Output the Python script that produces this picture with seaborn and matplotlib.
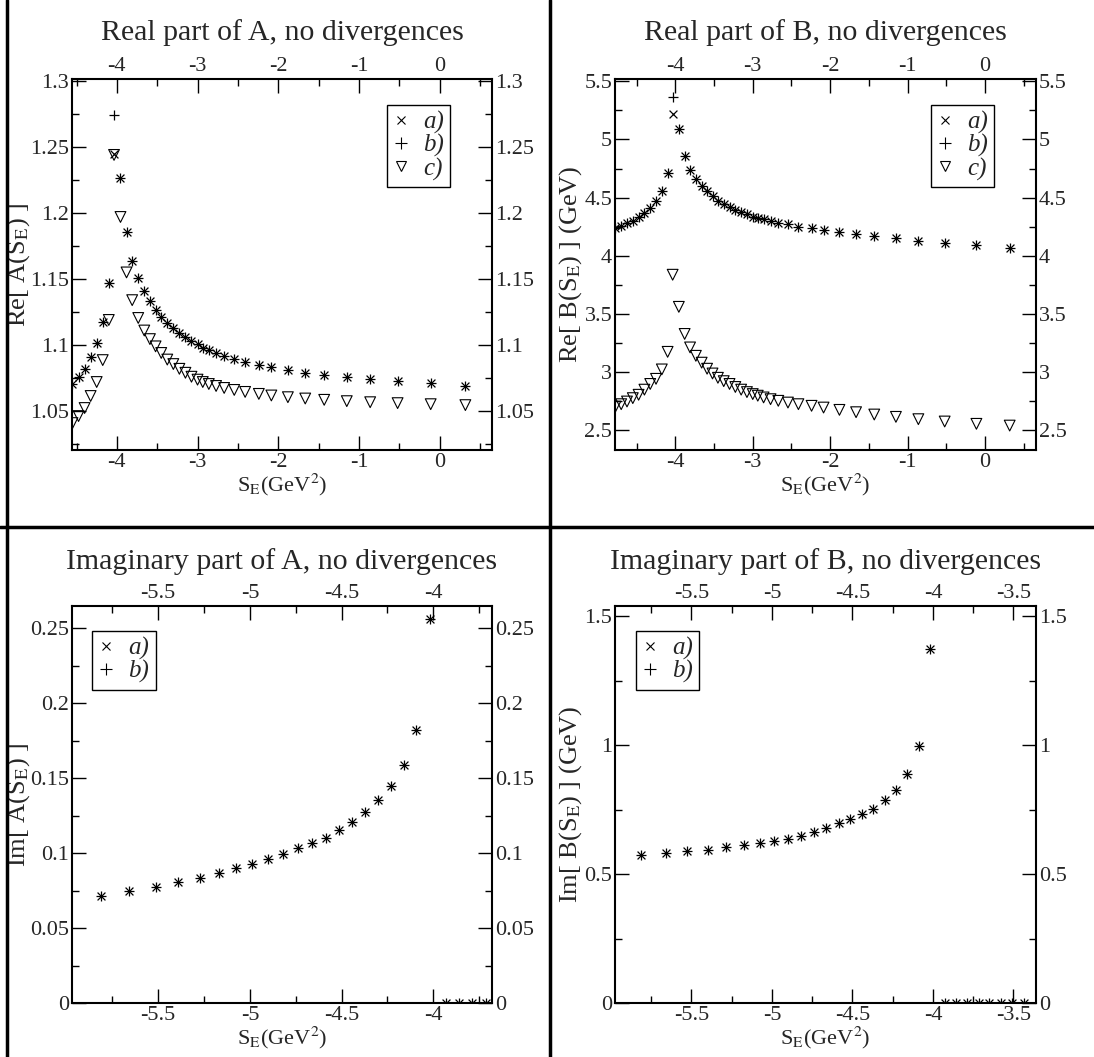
import matplotlib
matplotlib.use('Agg')
import matplotlib.pyplot as plt
from matplotlib.lines import Line2D
from matplotlib.ticker import MultipleLocator
import seaborn as sns

sns.set_theme(style='ticks')
plt.rcParams['font.family'] = ['Liberation Serif', 'DejaVu Serif']
plt.rcParams['mathtext.fontset'] = 'stix'

# ---- Re A ----
rea_x = [-4.55, -4.475, -4.40, -4.325, -4.25, -4.175, -4.10, -4.035,
         -3.955, -3.88, -3.81, -3.735, -3.66, -3.59, -3.52, -3.45, -3.375, -3.30,
         -3.225, -3.15, -3.075, -3.00, -2.935, -2.86, -2.77, -2.67, -2.545, -2.41,
         -2.24, -2.085, -1.88, -1.665, -1.43, -1.15, -0.86, -0.52, -0.11, 0.32]
rea_a = [1.0705, 1.0758, 1.0818, 1.0909, 1.1015, 1.1174, 1.147, 1.245,
         1.2265, 1.1856, 1.164, 1.151, 1.141, 1.133, 1.1265, 1.121, 1.1167, 1.113,
         1.109, 1.106, 1.103, 1.1005, 1.098, 1.096, 1.094, 1.092, 1.0895, 1.087,
         1.085, 1.083, 1.081, 1.079, 1.0775, 1.076, 1.074, 1.0725, 1.071, 1.069]
rea_b = [1.0705, 1.0758, 1.0818, 1.0909, 1.1015, 1.1174, 1.147, 1.274,
         1.2265, 1.1856, 1.164, 1.151, 1.141, 1.133, 1.1265, 1.121, 1.1167, 1.113,
         1.109, 1.106, 1.103, 1.1005, 1.098, 1.096, 1.094, 1.092, 1.0895, 1.087,
         1.085, 1.083, 1.081, 1.079, 1.0775, 1.076, 1.074, 1.0725, 1.071, 1.069]
rea_c = [1.0409, 1.0462, 1.0523, 1.0614, 1.072, 1.0886, 1.119, 1.244,
         1.197, 1.155, 1.134, 1.1205, 1.111, 1.1045, 1.099, 1.094, 1.089, 1.0856,
         1.082, 1.079, 1.076, 1.0738, 1.072, 1.0705, 1.069, 1.0675, 1.066, 1.0645,
         1.063, 1.0618, 1.0605, 1.0595, 1.0585, 1.0575, 1.0567, 1.056, 1.0552, 1.0545]

# ---- Re B ----
reb_x = [-4.775, -4.70, -4.625, -4.55, -4.475, -4.40, -4.325, -4.25, -4.175, -4.10, -4.035,
         -3.955, -3.88, -3.81, -3.735, -3.66, -3.59, -3.52, -3.45, -3.375, -3.30,
         -3.225, -3.15, -3.075, -3.00, -2.935, -2.86, -2.77, -2.67, -2.545, -2.41,
         -2.24, -2.085, -1.88, -1.665, -1.43, -1.15, -0.86, -0.52, -0.11, 0.32]
reb_a = [4.235, 4.256, 4.279, 4.302, 4.337, 4.366, 4.41, 4.468, 4.555, 4.709, 5.215,
         5.093, 4.86, 4.738, 4.657, 4.599, 4.555, 4.512, 4.474, 4.448, 4.419,
         4.395, 4.375, 4.36, 4.337, 4.323, 4.314, 4.302, 4.285, 4.273, 4.25,
         4.235, 4.22, 4.205, 4.185, 4.17, 4.15, 4.125, 4.11, 4.09, 4.07]
reb_b = [4.235, 4.256, 4.279, 4.302, 4.337, 4.366, 4.41, 4.468, 4.555, 4.709, 5.369,
         5.093, 4.86, 4.738, 4.657, 4.599, 4.555, 4.512, 4.474, 4.448, 4.419,
         4.395, 4.375, 4.36, 4.337, 4.323, 4.314, 4.302, 4.285, 4.273, 4.25,
         4.235, 4.22, 4.205, 4.185, 4.17, 4.15, 4.125, 4.11, 4.09, 4.07]
reb_c = [2.703, 2.724, 2.747, 2.776, 2.805, 2.849, 2.898, 2.942, 3.023, 3.174, 3.837,
         3.561, 3.328, 3.212, 3.14, 3.081, 3.029, 2.988, 2.951, 2.922, 2.898,
         2.872, 2.849, 2.828, 2.811, 2.797, 2.782, 2.767, 2.753, 2.738, 2.724,
         2.71, 2.695, 2.675, 2.655, 2.635, 2.615, 2.595, 2.575, 2.555, 2.54]

# ---- Im A ----
ima_x = [-5.812, -5.657, -5.514, -5.392, -5.274, -5.171, -5.076, -4.989, -4.90, -4.818,
         -4.74, -4.659, -4.585, -4.513, -4.442, -4.37, -4.30, -4.229, -4.161, -4.094,
         -4.016, -3.931, -3.859, -3.79, -3.715]
ima_y = [0.0716, 0.0745, 0.0777, 0.0806, 0.0837, 0.0867, 0.0898, 0.0927, 0.0959, 0.0995,
         0.1032, 0.1068, 0.1104, 0.1153, 0.1209, 0.1274, 0.1354, 0.1451, 0.159, 0.182,
         0.256, 0.0, 0.0, 0.0, 0.0]

# ---- Im B ----
imb_x = [-5.816, -5.659, -5.525, -5.397, -5.283, -5.176, -5.076, -4.99, -4.90, -4.822,
         -4.741, -4.665, -4.586, -4.514, -4.442, -4.37, -4.298, -4.23, -4.16, -4.088,
         -4.016, -3.928, -3.856, -3.79, -3.716, -3.65, -3.578, -3.506, -3.434]
imb_y = [0.574, 0.581, 0.588, 0.595, 0.605, 0.614, 0.621, 0.628, 0.638, 0.648,
         0.662, 0.68, 0.699, 0.713, 0.733, 0.754, 0.786, 0.827, 0.889, 0.996,
         1.373, 0.0, 0.0, 0.0, 0.0, 0.0, 0.0, 0.0, 0.0]

W, H = 1094, 1057
fig = plt.figure(figsize=(W / 100, H / 100), dpi=100)


def box(l, t, r, b):
    return [l / W, 1 - b / H, (r - l) / W, (b - t) / H]


def mark(ax, x, y, kind):
    if kind == 'x':
        sns.scatterplot(x=x, y=y, marker='x', s=32, color='black', linewidth=0.9, ax=ax, zorder=3)
    elif kind == '+':
        sns.scatterplot(x=x, y=y, marker='+', s=60, color='black', linewidth=0.9, ax=ax, zorder=3)
    else:
        sns.scatterplot(x=x, y=y, marker='v', s=60, color='black', linewidth=0.8, ax=ax, zorder=3)
        coll = ax.collections[-1]
        coll.set_facecolor('none')
        coll.set_edgecolor('black')


def style(ax, title, title_y, ylabel, ylabel_x, xlim, ylim, xmaj, xmin, ymaj, ymin):
    ax.set_xlim(*xlim)
    ax.set_ylim(*ylim)
    ax.xaxis.set_major_locator(MultipleLocator(xmaj))
    ax.xaxis.set_minor_locator(MultipleLocator(xmin))
    ax.yaxis.set_major_locator(MultipleLocator(ymaj))
    ax.yaxis.set_minor_locator(MultipleLocator(ymin))
    ax.tick_params(which='both', direction='in', top=True, right=True,
                   labeltop=True, labelright=True, labelsize=16, pad=2, color='black')
    ax.tick_params(which='major', length=10, width=1)
    ax.tick_params(which='minor', length=5, width=1)
    for sp in ax.spines.values():
        sp.set_linewidth(1.5)
        sp.set_color('black')
    bb = ax.get_position()
    fig.text((bb.x0 + bb.x1) / 2, 1 - title_y / H, title, fontsize=21.5,
             ha='center', va='center')
    ax.set_xlabel(r'S$_\mathrm{E}$(GeV$^\mathrm{2}$)', fontsize=16, labelpad=0)
    ax.set_ylabel(ylabel, fontsize=19)
    # ylabel_x is the pixel column of the label's right edge
    ax.yaxis.set_label_coords((ylabel_x - bb.x0 * W) / (bb.width * W), 0.5)
    fmt = lambda v, p: ('%g' % round(v, 6)) if abs(v) > 1e-9 else '0'
    ax.xaxis.set_major_formatter(plt.FuncFormatter(fmt))
    ax.yaxis.set_major_formatter(plt.FuncFormatter(fmt))


def legend(ax, labels, anchor):
    kinds = [('x', 6), ('+', 8), ('v', 7)]
    handles = []
    for (m, ms), lab in zip(kinds, labels):
        handles.append(Line2D([], [], linestyle='none', marker=m, markersize=ms,
                              markerfacecolor='none', markeredgecolor='black',
                              markeredgewidth=0.8, label=lab))
    lg = ax.legend(handles=handles, loc='upper left', bbox_to_anchor=anchor, frameon=True,
                   fancybox=False, edgecolor='black', framealpha=1,
                   prop={'family': 'Liberation Serif', 'style': 'italic', 'size': 18},
                   handlelength=0.6, handletextpad=0.6, labelspacing=0.0,
                   borderpad=0.25, borderaxespad=0)
    lg.get_frame().set_linewidth(1.0)


# top-left
ax1 = fig.add_axes(box(72, 79, 492, 450))
mark(ax1, rea_x, rea_a, 'x')
mark(ax1, rea_x, rea_b, '+')
mark(ax1, rea_x, rea_c, 'v')
style(ax1, 'Real part of A, no divergences', 33, r'Re[ A(S$_\mathrm{E}$) ]', 32,
      (-4.556, 0.65), (1.0205, 1.3015), 1, 0.5, 0.05, 0.025)
legend(ax1, ['a)', 'b)', 'c)'], (0.75, 0.93))

# top-right
ax2 = fig.add_axes(box(615, 79, 1036, 450))
mark(ax2, reb_x, reb_a, 'x')
mark(ax2, reb_x, reb_b, '+')
mark(ax2, reb_x, reb_c, 'v')
style(ax2, 'Real part of B, no divergences', 33, r'Re[ B(S$_\mathrm{E}$) ] (GeV)', 584,
      (-4.78, 0.66), (2.33, 5.52), 1, 0.5, 0.5, 0.25)
legend(ax2, ['a)', 'b)', 'c)'], (0.75, 0.93))

# bottom-left
ax3 = fig.add_axes(box(72, 606, 492, 1003))
mark(ax3, ima_x, ima_y, 'x')
mark(ax3, ima_x, ima_y, '+')
style(ax3, 'Imaginary part of A, no divergences', 562, r'Im[ A(S$_\mathrm{E}$) ]', 32,
      (-5.97, -3.68), (0, 0.265), 0.5, 0.25, 0.05, 0.025)
legend(ax3, ['a)', 'b)'], (0.048, 0.937))

# bottom-right
ax4 = fig.add_axes(box(615, 606, 1036, 1003))
mark(ax4, imb_x, imb_y, 'x')
mark(ax4, imb_x, imb_y, '+')
style(ax4, 'Imaginary part of B, no divergences', 562, r'Im[ B(S$_\mathrm{E}$) ] (GeV)', 584,
      (-5.975, -3.36), (0, 1.54), 0.5, 0.25, 0.5, 0.25)
legend(ax4, ['a)', 'b)'], (0.05, 0.937))

# panel separators
fig.add_artist(Line2D([7 / W, 7 / W], [0, 1], color='black', linewidth=2.5))
fig.add_artist(Line2D([550 / W, 550 / W], [0, 1], color='black', linewidth=2.5))
fig.add_artist(Line2D([0, 1], [1 - 527 / H, 1 - 527 / H], color='black', linewidth=2.5))

fig.savefig('out.png', dpi=100)
